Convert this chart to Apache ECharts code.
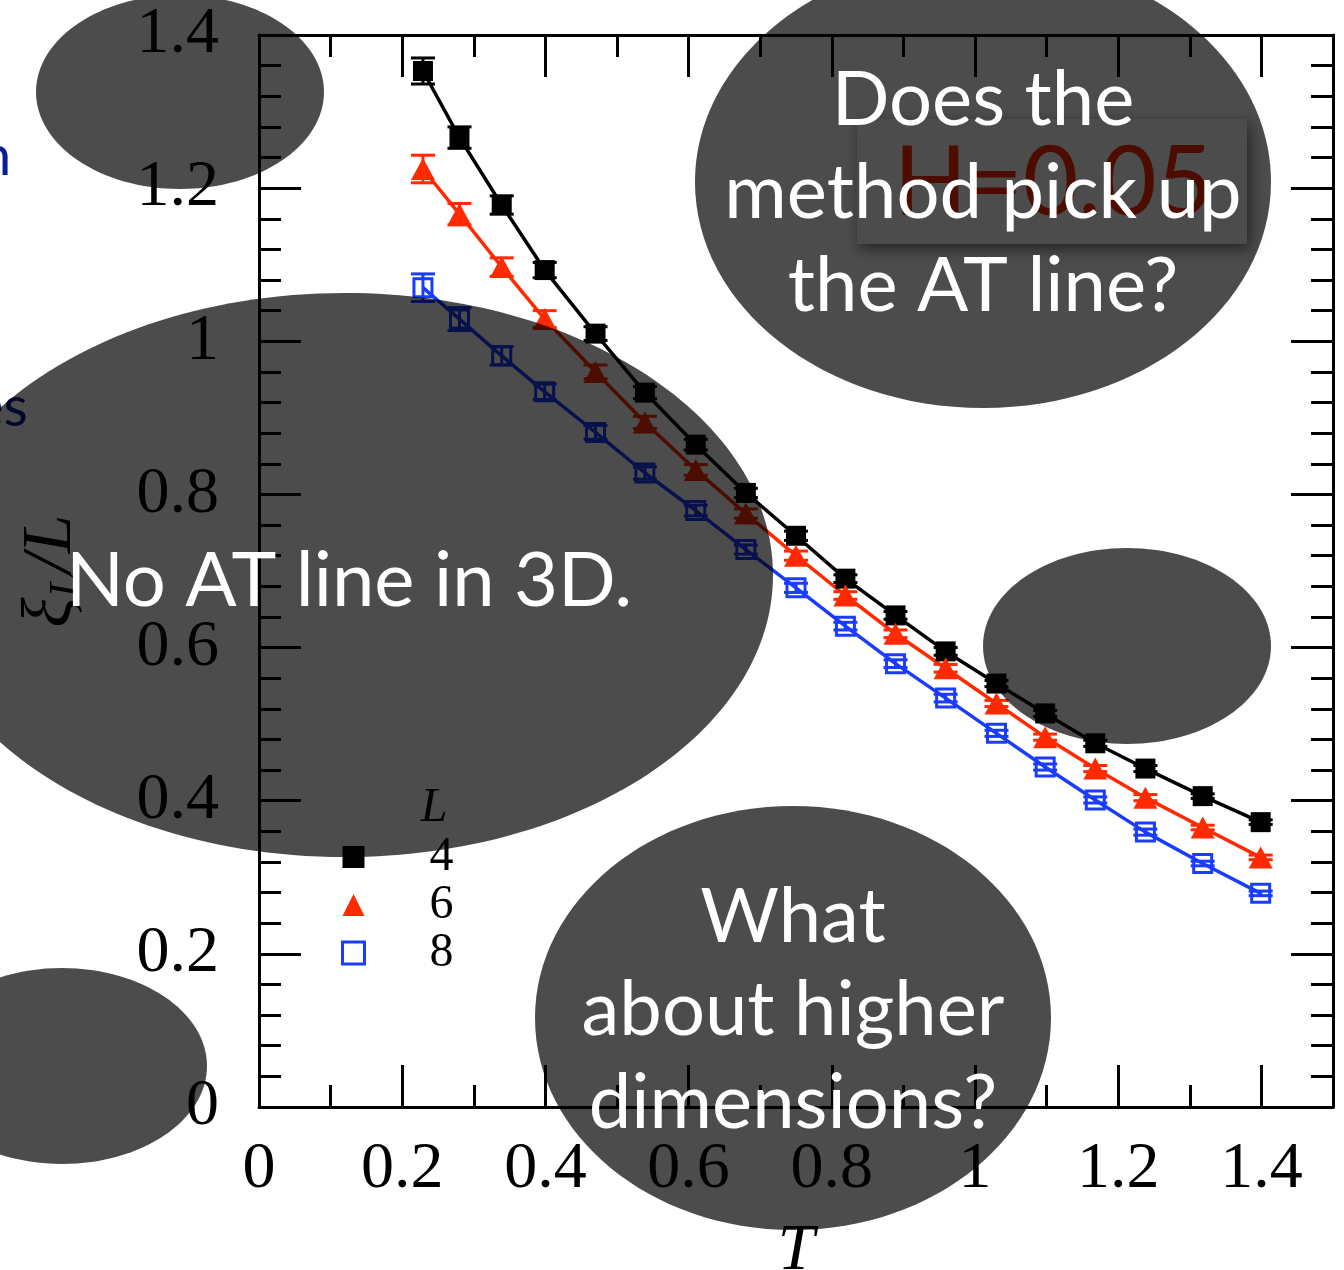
<!DOCTYPE html>
<html>
<head>
<meta charset="utf-8">
<script src="https://cdn.jsdelivr.net/npm/echarts@6/dist/echarts.min.js"></script>
<style>
  html, body { margin: 0; padding: 0; background: #fff; }
  #chart { width: 1344px; height: 1270px; }
</style>
</head>
<body>
<div id="chart"></div>
<script>
// Temperatures of the simulation runs
const temperatures = [0.229, 0.280, 0.339, 0.399, 0.470, 0.539, 0.610, 0.680, 0.750,
                      0.819, 0.889, 0.959, 1.030, 1.098, 1.168, 1.238, 1.318, 1.399];

// Correlation length ξ_L / L for each system size
const xiL4 = [1.353, 1.266, 1.178, 1.093, 1.010, 0.933, 0.865, 0.802, 0.746,
              0.690, 0.642, 0.595, 0.553, 0.514, 0.475, 0.442, 0.406, 0.372];
const xiL6 = [1.225, 1.166, 1.097, 1.029, 0.960, 0.894, 0.832, 0.775, 0.720,
              0.668, 0.618, 0.573, 0.527, 0.483, 0.442, 0.404, 0.365, 0.326];
const xiL8 = [1.070, 1.029, 0.981, 0.934, 0.881, 0.828, 0.779, 0.728, 0.678,
              0.628, 0.579, 0.534, 0.488, 0.444, 0.401, 0.359, 0.318, 0.279];

// Statistical errors
const errL4 = [0.017, 0.014, 0.012, 0.010, 0.009, 0.008, 0.007, 0.006, 0.006,
               0.005, 0.005, 0.005, 0.004, 0.004, 0.004, 0.004, 0.003, 0.003];
const errL6 = [0.018, 0.014, 0.012, 0.011, 0.009, 0.008, 0.007, 0.006, 0.006,
               0.005, 0.005, 0.005, 0.004, 0.004, 0.004, 0.004, 0.003, 0.003];
const errL8 = [0.018, 0.015, 0.012, 0.010, 0.009, 0.008, 0.007, 0.006, 0.006,
               0.005, 0.005, 0.005, 0.004, 0.004, 0.004, 0.004, 0.003, 0.003];

const sizeLabels = ['4', '6', '8'];
const xTickStep = 0.2;
const yTickStep = 0.2;

const BLACK = '#000000';
const RED = '#ff2a00';
const BLUE = '#1a3cff';
const SERIF = '"Liberation Serif", "DejaVu Serif", serif';
const SANS = 'Lato, "Open Sans", sans-serif';

function pairs(ys) { return temperatures.map((t, i) => [t, ys[i]]); }
function errRows(ys, es) { return temperatures.map((t, i) => [t, ys[i] - es[i], ys[i] + es[i]]); }

function errorBars(color) {
  return function (params, api) {
    const x = api.value(0);
    const top = api.coord([x, api.value(2)]);
    const bot = api.coord([x, api.value(1)]);
    const hw = 12;
    const st = { stroke: color, lineWidth: 3 };
    return {
      type: 'group',
      children: [
        { type: 'line', shape: { x1: top[0], y1: top[1], x2: bot[0], y2: bot[1] }, style: st },
        { type: 'line', shape: { x1: top[0] - hw, y1: top[1], x2: top[0] + hw, y2: top[1] }, style: st },
        { type: 'line', shape: { x1: bot[0] - hw, y1: bot[1], x2: bot[0] + hw, y2: bot[1] }, style: st }
      ]
    };
  };
}

const axisLine = { show: true, onZero: false, lineStyle: { color: '#000', width: 3 } };
const majorTick = { show: true, inside: true, length: 42, lineStyle: { color: '#000', width: 3 } };
const minorX = { show: true, splitNumber: 2, length: 22, lineStyle: { color: '#000', width: 3 } };
const minorY = { show: true, splitNumber: 5, length: 22, lineStyle: { color: '#000', width: 3 } };
const tickLabel = { fontFamily: SERIF, fontSize: 66, color: '#000' };

function xAx(pos, showLabels) {
  return {
    type: 'value', position: pos, min: 0, max: 1.5, interval: xTickStep,
    axisLine: axisLine, axisTick: majorTick, minorTick: minorX,
    splitLine: { show: false }, minorSplitLine: { show: false },
    axisLabel: Object.assign({ show: showLabels, margin: 30, showMaxLabel: false,
      formatter: v => (v > 1.41 ? '' : String(+v.toFixed(1))) }, tickLabel),
    name: showLabels ? 'T' : '', nameLocation: 'middle', nameGap: 112,
    nameTextStyle: { fontFamily: SERIF, fontStyle: 'italic', fontSize: 66, color: '#000' }
  };
}
function yAx(pos, showLabels) {
  return {
    type: 'value', position: pos, min: 0, max: 1.4, interval: yTickStep,
    axisLine: axisLine, axisTick: majorTick, minorTick: minorY,
    splitLine: { show: false }, minorSplitLine: { show: false },
    axisLabel: Object.assign({ show: showLabels, margin: 40,
      formatter: v => String(+v.toFixed(1)) }, tickLabel),
    name: showLabels ? '{i|ξ}{s|L}{i|/L}' : '', nameLocation: 'middle', nameGap: 170,
    nameTextStyle: {
      rich: {
        i: { fontFamily: SERIF, fontStyle: 'italic', fontSize: 70, color: '#000' },
        s: { fontFamily: SERIF, fontStyle: 'italic', fontSize: 44, color: '#000', padding: [30, 0, 0, 0] }
      }
    }
  };
}

const bubble = { fill: 'rgba(0,0,0,0.7)' };
const whiteText = {
  fill: '#ffffff', font: '76px ' + SANS, textAlign: 'center', textVerticalAlign: 'middle',
  lineHeight: 93, shadowBlur: 8, shadowColor: 'rgba(0,0,0,0.6)', shadowOffsetX: 2, shadowOffsetY: 3
};

const option = {
  animation: false,
  backgroundColor: '#ffffff',
  grid: { left: 259, top: 35, right: 11, bottom: 163, containLabel: false, outerBoundsMode: 'none' },
  xAxis: [xAx('bottom', true), xAx('top', false)],
  yAxis: [yAx('left', true), yAx('right', false)],
  legend: {
    orient: 'vertical', left: 341, top: 833, padding: 0, itemWidth: 22, itemHeight: 22,
    itemGap: 0, selectedMode: false,
    textStyle: { fontFamily: SERIF, fontSize: 48, lineHeight: 45, color: '#000', padding: [0, 0, 0, 60] },
    data: [
      { name: sizeLabels[0], icon: 'rect', itemStyle: { color: BLACK } },
      { name: sizeLabels[1], icon: 'triangle', itemStyle: { color: RED } },
      { name: sizeLabels[2], icon: 'rect', itemStyle: { color: 'rgba(0,0,0,0)', borderColor: BLUE, borderWidth: 3 } }
    ]
  },
  series: [
    { name: sizeLabels[0], type: 'line', data: pairs(xiL4), symbol: 'rect', symbolSize: 20,
      itemStyle: { color: BLACK }, lineStyle: { color: BLACK, width: 3.5 }, z: 3 },
    { name: sizeLabels[1], type: 'line', data: pairs(xiL6), symbol: 'triangle', symbolSize: [24, 22],
      itemStyle: { color: RED }, lineStyle: { color: RED, width: 3.5 }, z: 3 },
    { name: sizeLabels[2], type: 'line', data: pairs(xiL8), symbol: 'rect', symbolSize: 18,
      itemStyle: { color: 'rgba(0,0,0,0)', borderColor: BLUE, borderWidth: 3 },
      lineStyle: { color: BLUE, width: 3.5 }, z: 3 },
    { type: 'custom', renderItem: errorBars(BLACK), data: errRows(xiL4, errL4), z: 4 },
    { type: 'custom', renderItem: errorBars(RED), data: errRows(xiL6, errL6), z: 4 },
    { type: 'custom', renderItem: errorBars(BLUE), data: errRows(xiL8, errL8), z: 4 }
  ],
  graphic: [
    // legend heading
    { type: 'text', z: 10, style: { text: 'L', x: 434, y: 808, textAlign: 'center', textVerticalAlign: 'middle',
      font: 'italic 48px ' + SERIF, fill: '#000' } },
    // field label box
    { type: 'rect', z: 40, shape: { x: 857, y: 119, width: 390, height: 125 },
      style: { fill: '#ffffff', shadowBlur: 14, shadowColor: 'rgba(0,0,0,0.55)', shadowOffsetX: 3, shadowOffsetY: 5 } },
    { type: 'text', z: 41, style: { text: 'H=0.05', x: 1053, y: 184, textAlign: 'center', textVerticalAlign: 'middle',
      font: '96px ' + SANS, fill: RED } },
    // margin text
    { type: 'text', z: 41, style: { text: 'n', x: -20, y: 157, textVerticalAlign: 'middle', font: '56px ' + SANS, fill: '#0a1e96' } },
    { type: 'text', z: 41, style: { text: 'es', x: -26, y: 408, textVerticalAlign: 'middle', font: '56px ' + SANS, fill: '#0a1e96' } },
    // speech bubbles
    { type: 'ellipse', z: 100, shape: { cx: 180, cy: 92, rx: 144, ry: 97 }, style: bubble },
    { type: 'ellipse', z: 100, shape: { cx: 345, cy: 575, rx: 428, ry: 282 }, style: bubble },
    { type: 'ellipse', z: 100, shape: { cx: 983, cy: 182, rx: 288, ry: 226 }, style: bubble },
    { type: 'ellipse', z: 100, shape: { cx: 1127, cy: 646, rx: 144, ry: 98 }, style: bubble },
    { type: 'ellipse', z: 100, shape: { cx: 62, cy: 1066, rx: 145, ry: 98 }, style: bubble },
    { type: 'ellipse', z: 100, shape: { cx: 793, cy: 1018, rx: 258, ry: 212 }, style: bubble },
    { type: 'text', z: 110, style: Object.assign({ text: 'Does the\nmethod pick up\nthe AT line?', x: 983, y: 193 }, whiteText) },
    { type: 'text', z: 110, style: Object.assign({ text: 'No AT line in 3D.', x: 349, y: 581 }, whiteText) },
    { type: 'text', z: 110, style: Object.assign({ text: 'What\nabout higher\ndimensions?', x: 793, y: 1010 }, whiteText) }
  ]
};

const chart = echarts.init(document.getElementById('chart'), null, { renderer: 'canvas' });
chart.setOption(option);
</script>
</body>
</html>
